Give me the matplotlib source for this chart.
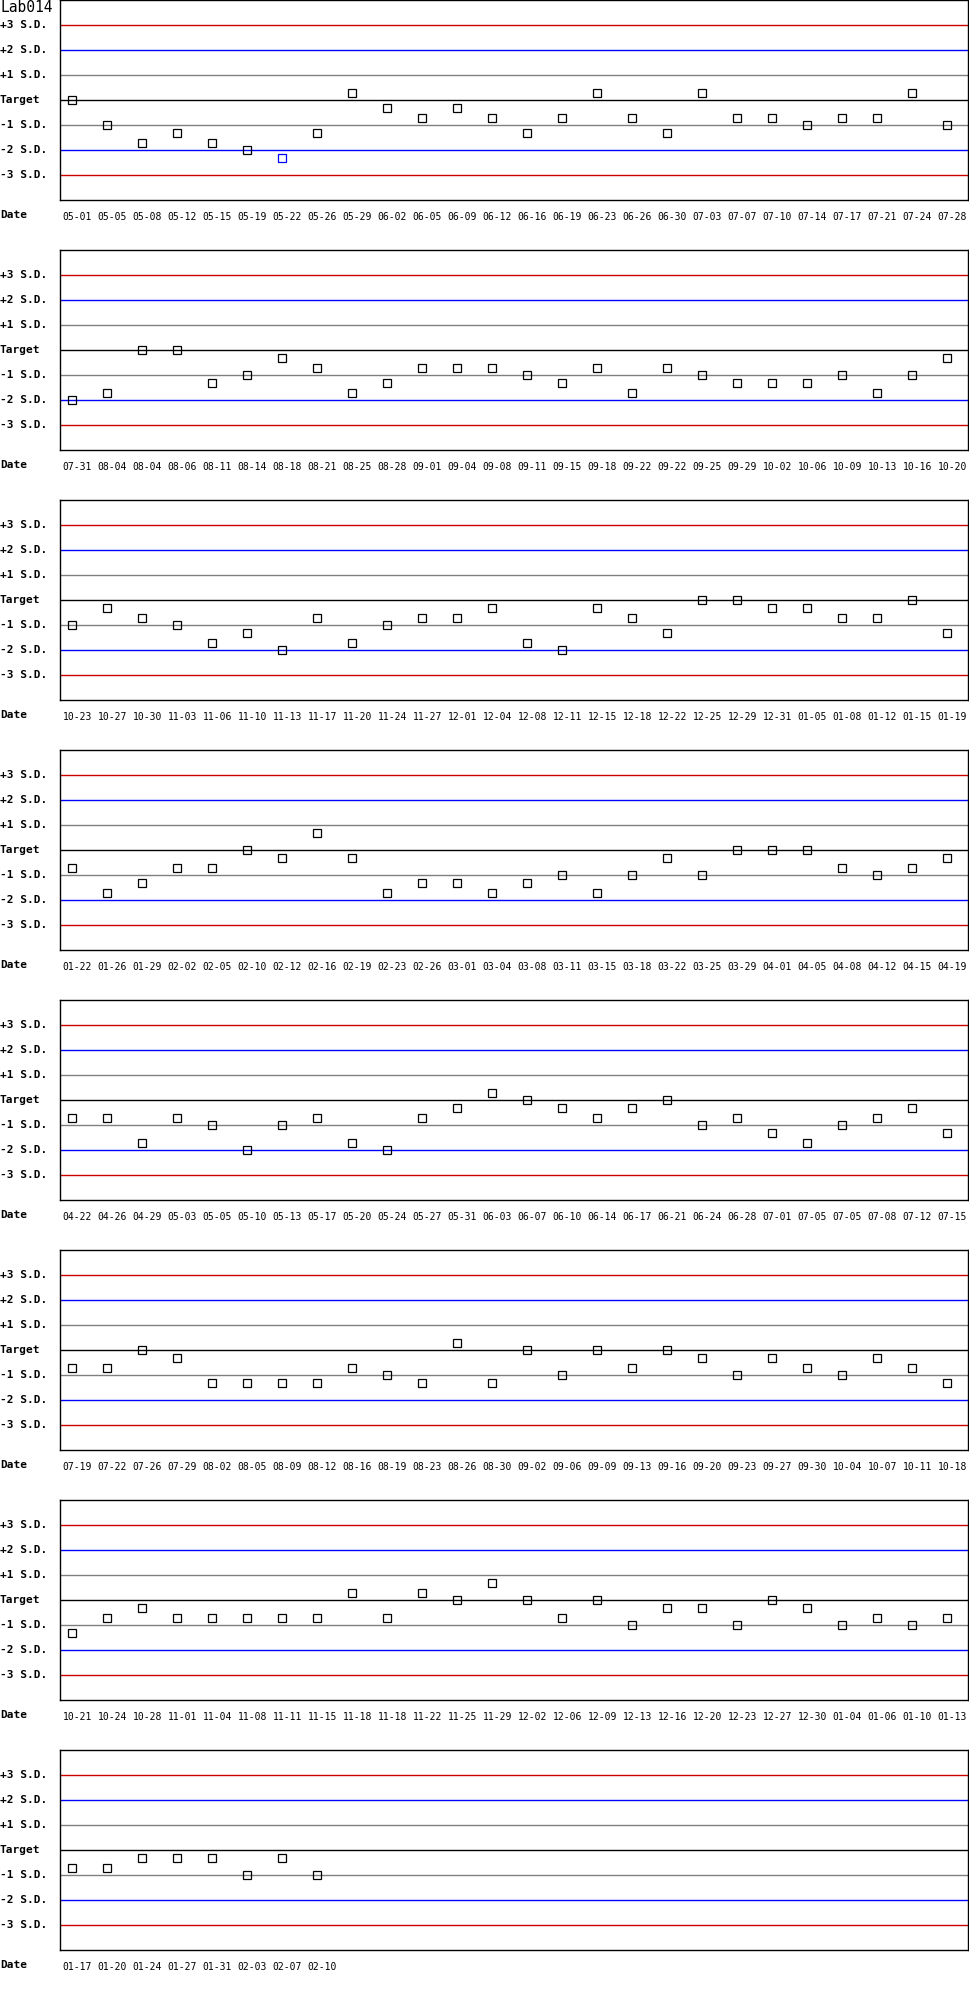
import matplotlib
matplotlib.use("Agg")
import matplotlib.pyplot as plt
import matplotlib.transforms as mtrans

# QC chart for Lab014, values in S.D. from target
dates = [
    "05-01", "05-05", "05-08", "05-12", "05-15", "05-19", "05-22", "05-26", "05-29", "06-02",
    "06-05", "06-09", "06-12", "06-16", "06-19", "06-23", "06-26", "06-30", "07-03", "07-07",
    "07-10", "07-14", "07-17", "07-21", "07-24", "07-28",
    "07-31", "08-04", "08-04", "08-06", "08-11", "08-14", "08-18", "08-21", "08-25", "08-28",
    "09-01", "09-04", "09-08", "09-11", "09-15", "09-18", "09-22", "09-22", "09-25", "09-29",
    "10-02", "10-06", "10-09", "10-13", "10-16", "10-20",
    "10-23", "10-27", "10-30", "11-03", "11-06", "11-10", "11-13", "11-17", "11-20", "11-24",
    "11-27", "12-01", "12-04", "12-08", "12-11", "12-15", "12-18", "12-22", "12-25", "12-29",
    "12-31", "01-05", "01-08", "01-12", "01-15", "01-19",
    "01-22", "01-26", "01-29", "02-02", "02-05", "02-10", "02-12", "02-16", "02-19", "02-23",
    "02-26", "03-01", "03-04", "03-08", "03-11", "03-15", "03-18", "03-22", "03-25", "03-29",
    "04-01", "04-05", "04-08", "04-12", "04-15", "04-19",
    "04-22", "04-26", "04-29", "05-03", "05-05", "05-10", "05-13", "05-17", "05-20", "05-24",
    "05-27", "05-31", "06-03", "06-07", "06-10", "06-14", "06-17", "06-21", "06-24", "06-28",
    "07-01", "07-05", "07-05", "07-08", "07-12", "07-15",
    "07-19", "07-22", "07-26", "07-29", "08-02", "08-05", "08-09", "08-12", "08-16", "08-19",
    "08-23", "08-26", "08-30", "09-02", "09-06", "09-09", "09-13", "09-16", "09-20", "09-23",
    "09-27", "09-30", "10-04", "10-07", "10-11", "10-18",
    "10-21", "10-24", "10-28", "11-01", "11-04", "11-08", "11-11", "11-15", "11-18", "11-18",
    "11-22", "11-25", "11-29", "12-02", "12-06", "12-09", "12-13", "12-16", "12-20", "12-23",
    "12-27", "12-30", "01-04", "01-06", "01-10", "01-13",
    "01-17", "01-20", "01-24", "01-27", "01-31", "02-03", "02-07", "02-10",
]
values = [
    0, -1, -1.7, -1.3, -1.7, -2, -2.3, -1.3, 0.3, -0.3,
    -0.7, -0.3, -0.7, -1.3, -0.7, 0.3, -0.7, -1.3, 0.3, -0.7,
    -0.7, -1, -0.7, -0.7, 0.3, -1,
    -2, -1.7, 0, 0, -1.3, -1, -0.3, -0.7, -1.7, -1.3,
    -0.7, -0.7, -0.7, -1, -1.3, -0.7, -1.7, -0.7, -1, -1.3,
    -1.3, -1.3, -1, -1.7, -1, -0.3,
    -1, -0.3, -0.7, -1, -1.7, -1.3, -2, -0.7, -1.7, -1,
    -0.7, -0.7, -0.3, -1.7, -2, -0.3, -0.7, -1.3, 0, 0,
    -0.3, -0.3, -0.7, -0.7, 0, -1.3,
    -0.7, -1.7, -1.3, -0.7, -0.7, 0, -0.3, 0.7, -0.3, -1.7,
    -1.3, -1.3, -1.7, -1.3, -1, -1.7, -1, -0.3, -1, 0,
    0, 0, -0.7, -1, -0.7, -0.3,
    -0.7, -0.7, -1.7, -0.7, -1, -2, -1, -0.7, -1.7, -2,
    -0.7, -0.3, 0.3, 0, -0.3, -0.7, -0.3, 0, -1, -0.7,
    -1.3, -1.7, -1, -0.7, -0.3, -1.3,
    -0.7, -0.7, 0, -0.3, -1.3, -1.3, -1.3, -1.3, -0.7, -1,
    -1.3, 0.3, -1.3, 0, -1, 0, -0.7, 0, -0.3, -1,
    -0.3, -0.7, -1, -0.3, -0.7, -1.3,
    -1.3, -0.7, -0.3, -0.7, -0.7, -0.7, -0.7, -0.7, 0.3, -0.7,
    0.3, 0, 0.7, 0, -0.7, 0, -1, -0.3, -0.3, -1,
    0, -0.3, -1, -0.7, -1, -0.7,
    -0.7, -0.7, -0.3, -0.3, -0.3, -1, -0.3, -1,
]
per_panel = 26
sd_levels = [3, 2, 1, 0, -1, -2, -3]
sd_labels = ["+3 S.D.", "+2 S.D.", "+1 S.D.", "Target", "-1 S.D.", "-2 S.D.", "-3 S.D."]
sd_colors = ["#cc0000", "#0000ff", "#808080", "#000000", "#808080", "#0000ff", "#cc0000"]

W, H = 970, 2000
fig = plt.figure(figsize=(W / 100, H / 100), dpi=100)
mono = "DejaVu Sans Mono"

n_panels = (len(values) + per_panel - 1) // per_panel
for p in range(n_panels):
    top = 250 * p
    ax = fig.add_axes([60 / W, 1 - (top + 200) / H, 908 / W, 200 / H])
    ax.set_xlim(-0.35, 25.59)
    ax.set_ylim(-4, 4)
    ax.set_xticks([])
    ax.set_yticks([])
    for s in ax.spines.values():
        s.set_linewidth(1.0)
    for lvl, c in zip(sd_levels, sd_colors):
        ax.axhline(lvl, color=c, lw=1.0, zorder=1)

    pv = values[p * per_panel:(p + 1) * per_panel]
    pd = dates[p * per_panel:(p + 1) * per_panel]
    xs = list(range(len(pv)))
    # points beyond 2 S.D. are drawn blue
    cols = ["#0000ff" if abs(v) > 2 else "#000000" for v in pv]
    for x, v, c in zip(xs, pv, cols):
        ax.plot(x, v, ls="none", marker="s", ms=5.2, mfc="none", mec=c, mew=0.9, zorder=3)

    # tick labels under the frame
    tr = mtrans.offset_copy(mtrans.blended_transform_factory(ax.transData, fig.transFigure),
                            fig=fig, x=5, y=0, units="dots")
    for x, d in zip(xs, pd):
        ax.text(x, 1 - (top + 217) / H, d, transform=tr, ha="center", va="center",
                fontsize=7, family=mono, clip_on=False)

    for lvl, lab in zip(sd_levels, sd_labels):
        fig.text(0, 1 - (top + 100 - 25 * lvl) / H, lab, ha="left", va="center",
                 fontsize=8, family=mono, fontweight="bold")
    fig.text(0, 1 - (top + 215) / H, "Date", ha="left", va="center",
             fontsize=8, family=mono, fontweight="bold")

fig.text(0, 1 - 7 / H, "Lab014", ha="left", va="center", fontsize=10.5, family=mono)

fig.savefig("out.png", dpi=100)
